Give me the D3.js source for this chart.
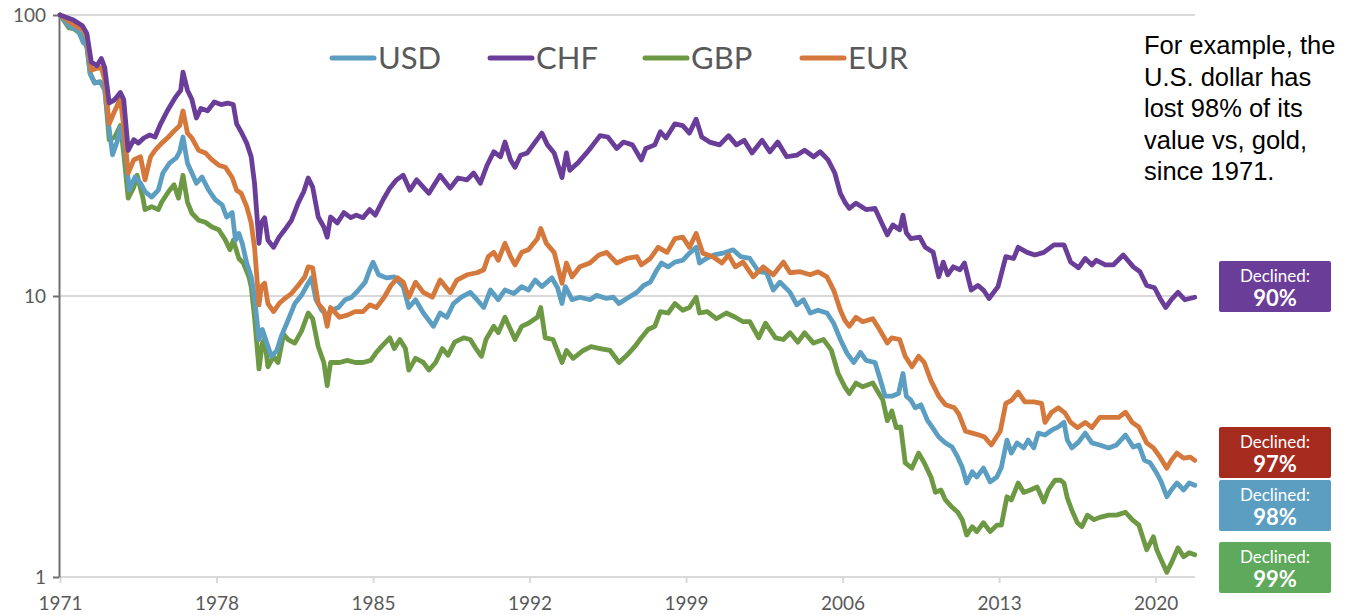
<!DOCTYPE html>
<html><head><meta charset="utf-8">
<script src="https://cdn.jsdelivr.net/npm/d3@7"></script>
<style>body{margin:0;background:#fff}svg{display:block}</style>
</head><body><svg id="c" width="1353" height="615"></svg>
<script>
// ---- data: [year, index value (1971 = 100)] ----
const usd = [[1971,100],[1971.4,91.5],[1971.6,89.5],[1971.8,88.6],[1972.05,79.4],[1972.2,79.4],[1972.35,61.7],[1972.55,57.3],[1972.8,57.8],[1973,54],[1973.15,42.3],[1973.35,31.8],[1973.55,35.3],[1973.7,39.8],[1973.9,33.8],[1974.1,23.8],[1974.35,26.5],[1974.6,25.2],[1974.8,23.5],[1975.1,22.5],[1975.4,23.8],[1975.6,27.4],[1975.9,29.7],[1976.2,31],[1976.35,32.6],[1976.5,36.8],[1976.7,29.7],[1976.9,27.4],[1977.1,25.2],[1977.35,26.5],[1977.65,23.8],[1977.95,22],[1978.25,21.1],[1978.45,19.1],[1978.7,19.8],[1978.85,15.8],[1979,16.7],[1979.15,15.4],[1979.35,13.1],[1979.55,11.7],[1979.7,9.9],[1979.9,7.0],[1980.05,7.6],[1980.25,6.8],[1980.45,6.1],[1980.7,6.4],[1980.9,7.2],[1981.2,8.2],[1981.5,9.4],[1981.8,10.05],[1982.1,11.1],[1982.25,11.6],[1982.45,9.7],[1982.7,8.9],[1982.95,8.55],[1983.15,8.9],[1983.45,9.1],[1983.75,9.7],[1984.05,9.9],[1984.35,10.5],[1984.65,11.2],[1984.85,12.4],[1985,13.2],[1985.25,11.9],[1985.6,11.6],[1985.95,11.7],[1986.35,10.8],[1986.6,9.1],[1986.9,9.7],[1987.25,8.7],[1987.7,7.8],[1988,8.7],[1988.3,8.4],[1988.6,9.4],[1988.95,9.9],[1989.35,10.3],[1989.65,9.7],[1989.95,9.1],[1990.25,10.5],[1990.6,9.7],[1990.9,10.5],[1991.3,10.2],[1991.65,10.8],[1991.95,10.5],[1992.25,11.4],[1992.55,10.8],[1993,11.6],[1993.25,10.7],[1993.45,9.4],[1993.6,10.8],[1993.9,9.7],[1994.25,9.9],[1994.7,9.7],[1995,10.05],[1995.45,9.8],[1995.75,9.9],[1996,9.4],[1996.35,9.8],[1996.8,10.3],[1997.1,10.9],[1997.4,11.2],[1997.7,12.4],[1997.9,13.1],[1998.2,12.7],[1998.5,13.2],[1998.85,13.4],[1999.15,14.2],[1999.45,14.9],[1999.6,13.1],[1999.9,13.6],[2000.25,14],[2000.65,14.2],[2001.1,14.6],[2001.45,13.8],[2001.85,13.6],[2002.25,12.2],[2002.6,12.1],[2002.9,10.5],[2003.2,11.2],[2003.65,10.3],[2003.95,9.3],[2004.25,9.7],[2004.55,8.7],[2004.9,8.9],[2005.3,8.7],[2005.6,8.0],[2005.9,7.0],[2006.2,6.25],[2006.5,5.8],[2006.8,6.3],[2007.05,5.9],[2007.45,5.8],[2007.65,5.15],[2007.9,4.4],[2008.2,4.4],[2008.5,4.5],[2008.7,5.3],[2008.85,4.4],[2009.05,4.26],[2009.25,4.0],[2009.5,4.1],[2009.8,3.6],[2010,3.42],[2010.3,3.15],[2010.6,3.0],[2010.9,2.9],[2011.15,2.67],[2011.35,2.46],[2011.55,2.16],[2011.8,2.37],[2012,2.27],[2012.3,2.44],[2012.6,2.18],[2012.9,2.27],[2013.1,2.46],[2013.35,3.07],[2013.55,2.76],[2013.8,3.0],[2014.1,2.88],[2014.3,3.07],[2014.55,2.88],[2014.75,3.25],[2015.05,3.2],[2015.35,3.33],[2015.65,3.42],[2015.9,3.55],[2016.05,3.07],[2016.25,2.88],[2016.55,3.02],[2016.85,3.25],[2017.15,3.0],[2017.5,2.95],[2017.9,2.88],[2018.25,2.95],[2018.65,3.2],[2019,2.9],[2019.25,2.95],[2019.5,2.6],[2019.75,2.55],[2020.05,2.34],[2020.25,2.18],[2020.5,1.93],[2020.7,2.04],[2020.95,2.16],[2021.25,2.04],[2021.5,2.16],[2021.75,2.12]];

const chf = [[1971,100],[1971.3,98],[1971.6,96],[1972,91.5],[1972.2,86],[1972.4,68],[1972.65,66],[1972.85,70],[1973,65],[1973.2,48.6],[1973.45,50],[1973.7,53],[1973.85,50],[1974.05,33],[1974.3,36],[1974.5,35],[1974.75,36.5],[1975,37.4],[1975.25,36.8],[1975.5,41],[1975.8,45.6],[1976.15,50.8],[1976.4,54],[1976.5,62.6],[1976.7,54],[1976.9,50],[1977.1,43],[1977.3,46.5],[1977.6,45.6],[1977.9,49],[1978.2,48],[1978.5,48.6],[1978.75,48],[1978.9,41],[1979.1,38.4],[1979.35,35],[1979.55,31.3],[1979.7,25.2],[1979.9,15.4],[1980,18.2],[1980.15,19],[1980.3,15.8],[1980.55,14.9],[1980.8,16.2],[1981.05,17.2],[1981.35,18.6],[1981.65,21.4],[1981.9,23.5],[1982.1,26.3],[1982.3,24.4],[1982.55,19.1],[1982.8,17.6],[1982.95,16.2],[1983.1,19.1],[1983.4,18.2],[1983.7,19.8],[1984,19],[1984.25,19.4],[1984.55,19],[1984.85,20.3],[1985.1,19.4],[1985.45,22],[1985.75,24.2],[1986.05,25.9],[1986.35,26.9],[1986.65,23.8],[1986.95,25.9],[1987.5,23.2],[1988,26.9],[1988.45,24.2],[1988.8,26.3],[1989.2,25.9],[1989.5,27.4],[1989.8,25.2],[1990.1,29.2],[1990.4,32.6],[1990.7,31.3],[1990.9,35.3],[1991.15,30.5],[1991.35,28.7],[1991.6,31.7],[1991.9,32.3],[1992.25,35.3],[1992.55,38],[1992.8,34.5],[1993.1,32.3],[1993.45,26.4],[1993.65,32.3],[1993.8,28],[1994.2,30],[1994.55,32.3],[1994.75,33.8],[1995.15,37.2],[1995.5,36.8],[1995.9,33.5],[1996.2,35.3],[1996.6,34.5],[1997,30.5],[1997.2,33.5],[1997.6,34.5],[1997.85,38.4],[1998.1,36.5],[1998.5,41],[1998.85,40.4],[1999.15,38],[1999.45,42.6],[1999.7,36.8],[2000.05,35.3],[2000.5,34.5],[2000.9,37.2],[2001.25,34.5],[2001.6,35.8],[2001.95,32.3],[2002.4,35.8],[2002.75,32.6],[2003.1,35.3],[2003.5,31.3],[2003.95,31.7],[2004.3,33],[2004.7,31.3],[2005,32.6],[2005.35,30.5],[2005.65,27.4],[2005.9,23.2],[2006.1,21.6],[2006.3,20.5],[2006.6,21.4],[2007.05,20.3],[2007.45,20.5],[2007.75,18.2],[2008,16.5],[2008.25,17.9],[2008.55,17.2],[2008.7,19.4],[2008.85,16.8],[2009.05,16],[2009.45,16.2],[2009.7,14.9],[2010.05,14.3],[2010.3,11.7],[2010.5,13.2],[2010.7,11.9],[2010.95,12.7],[2011.25,12.4],[2011.45,13.1],[2011.75,10.5],[2012.05,10.9],[2012.3,10.5],[2012.55,9.8],[2012.95,10.8],[2013.3,13.8],[2013.65,13.6],[2013.85,14.9],[2014.25,14.3],[2014.6,14],[2015,14.3],[2015.45,15.2],[2015.9,15.2],[2016.2,13.2],[2016.55,12.6],[2016.85,13.6],[2017.15,12.9],[2017.35,13.4],[2017.75,12.9],[2018.1,12.9],[2018.55,14],[2019,12.7],[2019.3,12.2],[2019.6,10.9],[2019.95,10.7],[2020.2,9.8],[2020.45,9.1],[2020.7,9.7],[2021,10.3],[2021.3,9.7],[2021.75,9.9]];

const gbp = [[1971,100],[1971.4,90],[1971.6,89.5],[1971.9,86],[1972.2,77],[1972.35,62],[1972.55,57.3],[1972.8,57.8],[1973,55.5],[1973.2,36],[1973.45,36.8],[1973.7,40.4],[1973.85,32.3],[1974.05,22.3],[1974.3,24.4],[1974.45,26.9],[1974.7,22.5],[1974.8,20.3],[1975.1,20.8],[1975.4,20.3],[1975.55,21.6],[1975.85,23.5],[1976.1,24.9],[1976.3,22.3],[1976.5,26.9],[1976.7,21.6],[1976.9,19.7],[1977.2,18.6],[1977.5,18.3],[1977.8,17.6],[1978.1,17.2],[1978.4,15.8],[1978.6,14.6],[1978.75,15.8],[1979,13.6],[1979.2,13.1],[1979.45,11.7],[1979.55,10.8],[1979.7,8.4],[1979.9,5.5],[1980.05,6.8],[1980.15,7.0],[1980.3,5.6],[1980.55,6.1],[1980.75,5.8],[1981,7.3],[1981.2,7.0],[1981.5,6.8],[1981.8,7.5],[1982.1,8.7],[1982.3,8.3],[1982.55,6.6],[1982.8,5.8],[1982.95,4.8],[1983.1,5.8],[1983.5,5.8],[1983.85,5.9],[1984.2,5.8],[1984.55,5.8],[1984.9,5.9],[1985.15,6.3],[1985.45,6.7],[1985.75,7.1],[1985.95,6.5],[1986.2,7.0],[1986.45,6.5],[1986.6,5.45],[1986.9,6.0],[1987.25,5.8],[1987.5,5.45],[1987.8,5.8],[1988.1,6.5],[1988.35,6.15],[1988.65,6.85],[1989.05,7.1],[1989.35,7.0],[1989.6,6.5],[1989.85,6.1],[1990.05,7.0],[1990.4,7.8],[1990.6,7.4],[1990.9,8.4],[1991.15,7.6],[1991.35,7.0],[1991.65,7.8],[1991.95,8.0],[1992.35,8.4],[1992.5,9.1],[1992.7,7.1],[1993.05,7.0],[1993.45,5.8],[1993.65,6.4],[1993.95,6.0],[1994.4,6.4],[1994.75,6.6],[1995.15,6.5],[1995.6,6.4],[1996,5.8],[1996.35,6.15],[1996.7,6.6],[1997,7.1],[1997.3,7.6],[1997.6,7.8],[1997.85,8.8],[1998.2,8.7],[1998.5,9.4],[1998.85,8.9],[1999.15,9.1],[1999.45,9.9],[1999.6,8.7],[1999.95,8.8],[2000.35,8.3],[2000.8,8.7],[2001.2,8.4],[2001.55,8.1],[2001.85,8.1],[2002.25,7.1],[2002.55,8.0],[2003,7.1],[2003.35,7.0],[2003.65,7.4],[2004,6.85],[2004.3,7.4],[2004.7,6.8],[2005.15,7.0],[2005.5,6.4],[2005.8,5.3],[2006.1,4.75],[2006.3,4.5],[2006.6,4.9],[2006.9,4.75],[2007.35,4.9],[2007.55,4.6],[2007.8,4.26],[2008,3.6],[2008.2,3.9],[2008.4,3.4],[2008.6,3.42],[2008.8,2.55],[2009.1,2.44],[2009.4,2.76],[2009.65,2.55],[2009.95,2.27],[2010.15,2.0],[2010.4,2.04],[2010.6,1.88],[2010.9,1.77],[2011.15,1.7],[2011.35,1.6],[2011.55,1.41],[2011.8,1.51],[2012,1.45],[2012.3,1.56],[2012.6,1.45],[2012.9,1.53],[2013.1,1.53],[2013.35,1.93],[2013.55,1.88],[2013.85,2.16],[2014.1,2.0],[2014.4,2.04],[2014.7,2.09],[2015,1.85],[2015.2,2.04],[2015.5,2.21],[2015.75,2.21],[2015.9,2.16],[2016.05,1.91],[2016.25,1.73],[2016.5,1.56],[2016.7,1.51],[2016.95,1.66],[2017.25,1.6],[2017.5,1.63],[2017.9,1.66],[2018.25,1.66],[2018.65,1.7],[2018.95,1.6],[2019.25,1.53],[2019.6,1.25],[2019.9,1.39],[2020.05,1.25],[2020.25,1.15],[2020.5,1.04],[2020.7,1.12],[2021,1.27],[2021.25,1.18],[2021.5,1.22],[2021.75,1.2]];

const eur = [[1971,100],[1971.4,95],[1971.7,91.5],[1972.05,88.6],[1972.2,83.9],[1972.4,63.6],[1972.65,64.6],[1972.85,65],[1973,58.7],[1973.2,41],[1973.45,45.6],[1973.7,50.5],[1973.85,40],[1974.05,27.4],[1974.3,30.5],[1974.6,31.3],[1974.8,25.9],[1975.05,31.3],[1975.25,33],[1975.55,35],[1975.85,36.8],[1976.15,39],[1976.35,40.4],[1976.5,45.6],[1976.7,38],[1976.9,36.5],[1977.2,33],[1977.5,32.3],[1977.8,30.5],[1978.1,29.2],[1978.4,28.7],[1978.7,26.4],[1978.9,23.8],[1979.1,23.2],[1979.35,20.8],[1979.55,18.2],[1979.7,14.9],[1979.9,9.3],[1980,10.8],[1980.15,11.1],[1980.3,9.4],[1980.55,8.8],[1980.8,9.4],[1981.05,9.8],[1981.35,10.2],[1981.65,10.9],[1981.95,11.7],[1982.1,12.7],[1982.3,12.6],[1982.55,9.4],[1982.8,8.9],[1982.95,7.8],[1983.1,9.1],[1983.5,8.4],[1983.85,8.55],[1984.2,8.8],[1984.55,8.8],[1984.85,9.3],[1985.15,9.1],[1985.5,9.9],[1985.8,10.9],[1986.1,11.6],[1986.35,11.2],[1986.6,9.9],[1986.9,11.2],[1987.25,10.3],[1987.65,9.9],[1988,11.4],[1988.45,10.3],[1988.75,11.4],[1989.2,11.9],[1989.65,12.1],[1989.95,12.4],[1990.15,13.8],[1990.4,14.3],[1990.6,13.4],[1990.9,15.4],[1991.15,13.8],[1991.35,12.9],[1991.65,14.3],[1991.95,14.6],[1992.35,16],[1992.5,17.4],[1992.75,15.4],[1993.1,14.3],[1993.45,11.1],[1993.65,13.1],[1993.9,11.7],[1994.25,12.7],[1994.7,13.1],[1995.1,14],[1995.45,14.3],[1995.9,13.1],[1996.35,13.6],[1996.8,13.8],[1997,12.9],[1997.4,13.6],[1997.75,14.9],[1998.15,14.3],[1998.5,16],[1998.85,16.2],[1999.15,14.9],[1999.45,16.7],[1999.75,14.2],[2000.2,13.8],[2000.6,13.1],[2000.9,14],[2001.2,12.7],[2001.55,13.2],[2002,11.7],[2002.45,12.7],[2002.9,11.9],[2003.35,13.2],[2003.65,12.1],[2004.1,12.2],[2004.55,11.9],[2004.9,12.2],[2005.3,11.7],[2005.6,10.5],[2005.9,8.9],[2006.1,8.2],[2006.3,7.8],[2006.6,8.4],[2006.9,8.1],[2007.35,8.3],[2007.65,7.6],[2008,6.8],[2008.2,7.1],[2008.55,7.0],[2008.8,6.1],[2009.1,5.6],[2009.4,6.1],[2009.65,5.8],[2009.95,5.0],[2010.3,4.4],[2010.6,4.1],[2011,4.0],[2011.2,3.8],[2011.5,3.3],[2011.8,3.25],[2012.1,3.2],[2012.35,3.15],[2012.65,2.95],[2013.05,3.3],[2013.3,4.15],[2013.55,4.25],[2013.85,4.55],[2014.15,4.2],[2014.55,4.2],[2014.9,4.15],[2015.05,3.55],[2015.35,3.86],[2015.65,4.0],[2015.95,3.83],[2016.2,3.55],[2016.5,3.4],[2016.85,3.55],[2017.15,3.4],[2017.5,3.7],[2017.95,3.7],[2018.35,3.7],[2018.65,3.86],[2018.95,3.55],[2019.25,3.42],[2019.6,3.0],[2019.9,2.88],[2020.2,2.67],[2020.5,2.44],[2020.7,2.6],[2020.95,2.76],[2021.25,2.65],[2021.55,2.67],[2021.75,2.6]];

const seriesNames = ["USD","CHF","GBP","EUR"];
const seriesColors = ["#5B9EC1","#6A3D99","#6E9944","#D5783B"];
const xTickValues = [1971,1978,1985,1992,1999,2006,2013,2020];
const yTickValues = [1,10,100];
const declinedLabels = ["90%","97%","98%","99%"];
const declinedColors = ["#6A3D99","#A52B1F","#5B9EC1","#5FA95C"];
const noteLines = ["For example, the","U.S. dollar has","lost 98% of its","value vs, gold,","since 1971."];

// ---- chart ----
const svg = d3.select("#c");
const x = d3.scaleLinear().domain([1971, 2021.76]).range([60, 1195]);
const y = d3.scaleLog().domain([1, 100]).range([577, 15]);
const FONT = "Lato, 'Open Sans', sans-serif";

// horizontal gridlines
svg.append("g").selectAll("line").data(yTickValues).join("line")
  .attr("x1", 60).attr("x2", 1195)
  .attr("y1", d => y(d)).attr("y2", d => y(d))
  .attr("stroke", "#d9d9d9").attr("stroke-width", 2);

// x axis
const gx = svg.append("g").attr("transform", "translate(0,577)")
  .call(d3.axisBottom(x).tickValues(xTickValues).tickFormat(d3.format("d")).tickSize(6).tickSizeOuter(0));
gx.select(".domain").remove();
gx.selectAll(".tick line").attr("stroke", "#d9d9d9").attr("stroke-width", 2);
gx.selectAll(".tick text").attr("fill", "#595959").attr("font-family", FONT)
  .attr("font-size", 19).attr("dy", 0).attr("y", 33);

// y axis
const gy = svg.append("g").attr("transform", "translate(59,0)")
  .call(d3.axisLeft(y).tickValues(yTickValues).tickFormat(d3.format("d")).tickSize(6).tickSizeOuter(0));
gy.select(".domain").attr("stroke", "#6f6f6f").attr("stroke-width", 2);
gy.selectAll(".tick line").attr("stroke", "#6f6f6f").attr("stroke-width", 2);
gy.selectAll(".tick text").attr("fill", "#595959").attr("font-family", FONT)
  .attr("font-size", 19).attr("x", -13).attr("dy", "0.35em");

// lines
const line = d3.line().x(d => x(d[0])).y(d => y(d[1]));
const dataSets = [usd, chf, gbp, eur];
const drawOrder = [2, 0, 3, 1];
drawOrder.forEach(i => {
  svg.append("path").datum(dataSets[i])
    .attr("fill", "none").attr("stroke", seriesColors[i])
    .attr("stroke-width", 4.8).attr("stroke-linejoin", "round").attr("stroke-linecap", "round")
    .attr("d", line);
});

// legend
const legendX = [330, 488, 643, 800];
const lg = svg.append("g");
seriesNames.forEach((n, i) => {
  lg.append("line").attr("x1", legendX[i] + 2).attr("x2", legendX[i] + 44)
    .attr("y1", 58).attr("y2", 58).attr("stroke", seriesColors[i])
    .attr("stroke-width", 5).attr("stroke-linecap", "round");
  lg.append("text").attr("x", legendX[i] + 48).attr("y", 69)
    .attr("font-family", FONT).attr("font-size", 31).attr("fill", "#595959").text(n);
});

// annotation
svg.append("g").selectAll("text").data(noteLines).join("text")
  .attr("x", 1144).attr("y", (d, i) => 54 + i * 31.5)
  .attr("font-family", "'Liberation Sans', Arial, sans-serif").attr("font-size", 25.5)
  .attr("fill", "#000").text(d => d);

// declined boxes
const boxTop = [261, 427, 480, 542];
const bg = svg.append("g");
declinedLabels.forEach((lab, i) => {
  bg.append("rect").attr("x", 1219).attr("y", boxTop[i]).attr("width", 112).attr("height", 51)
    .attr("rx", 2).attr("fill", declinedColors[i]);
  bg.append("text").attr("x", 1275).attr("y", boxTop[i] + 21).attr("text-anchor", "middle")
    .attr("font-family", FONT).attr("font-size", 17).attr("fill", "#fff").text("Declined:");
  bg.append("text").attr("x", 1275).attr("y", boxTop[i] + 45).attr("text-anchor", "middle")
    .attr("font-family", FONT).attr("font-weight", "bold").attr("font-size", 22).attr("fill", "#fff").text(lab);
});
</script></body></html>
